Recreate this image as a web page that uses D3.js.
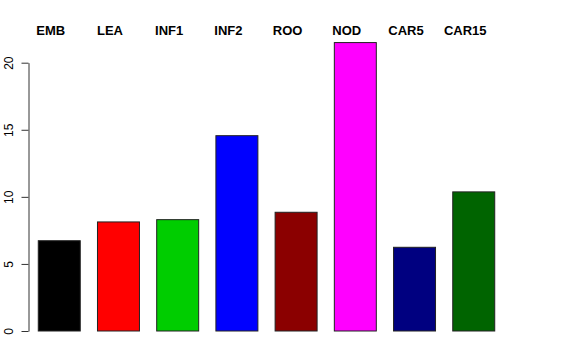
<!DOCTYPE html>
<html>
<head>
<meta charset="utf-8">
<script src="https://cdn.jsdelivr.net/npm/d3@7"></script>
<style>
  html, body { margin: 0; padding: 0; background: #fff; }
  svg { display: block; }
</style>
</head>
<body>
<svg id="chart" width="576" height="360"></svg>
<script>
const categories = ["EMB", "LEA", "INF1", "INF2", "ROO", "NOD", "CAR5", "CAR15"];
const values = [6.73, 8.13, 8.30, 14.56, 8.85, 21.50, 6.24, 10.37];
const colors = ["#000000", "#FF0000", "#00CD00", "#0000FF", "#8B0000", "#FF00FF", "#000080", "#006400"];
const yTicks = [0, 5, 10, 15, 20];

(function () {
const svg = d3.select("#chart");
const plotLeft = 28.5, plotRight = 504.5, plotBottom = 331, plotTop = 62.7;

const x = d3.scaleBand()
  .domain(categories)
  .range([plotLeft, plotRight])
  .paddingInner(0.291)
  .paddingOuter(0.165);

const y = d3.scaleLinear().domain([0, 20]).range([plotBottom, plotTop]);

svg.append("g")
  .selectAll("rect")
  .data(categories)
  .join("rect")
  .attr("x", d => x(d))
  .attr("y", (d, i) => y(values[i]))
  .attr("width", x.bandwidth())
  .attr("height", (d, i) => y(0) - y(values[i]))
  .attr("fill", (d, i) => colors[i])
  .attr("stroke", "#222")
  .attr("stroke-width", 1);

const axis = d3.axisLeft(y).tickValues(yTicks).tickSize(7).tickSizeOuter(0).tickFormat(d3.format("d"));
const ag = svg.append("g").attr("transform", `translate(${plotLeft},0)`).call(axis);
ag.select(".domain").attr("stroke", "#333");
ag.selectAll(".tick line").attr("stroke", "#333");
ag.selectAll(".tick text")
  .attr("x", null).attr("dy", null)
  .attr("transform", "translate(-16,0) rotate(-90)")
  .attr("text-anchor", "middle")
  .attr("font-family", "Liberation Sans, Arial, sans-serif")
  .attr("font-size", 12)
  .attr("fill", "#000");

svg.append("g")
  .selectAll("text")
  .data(categories)
  .join("text")
  .attr("x", d => x(d) + x.bandwidth() / 2 - 8.5)
  .attr("y", 35)
  .attr("text-anchor", "middle")
  .attr("font-family", "Liberation Sans, Arial, sans-serif")
  .attr("font-weight", "bold")
  .attr("font-size", 13)
  .text(d => d);
})();
</script>
</body>
</html>
